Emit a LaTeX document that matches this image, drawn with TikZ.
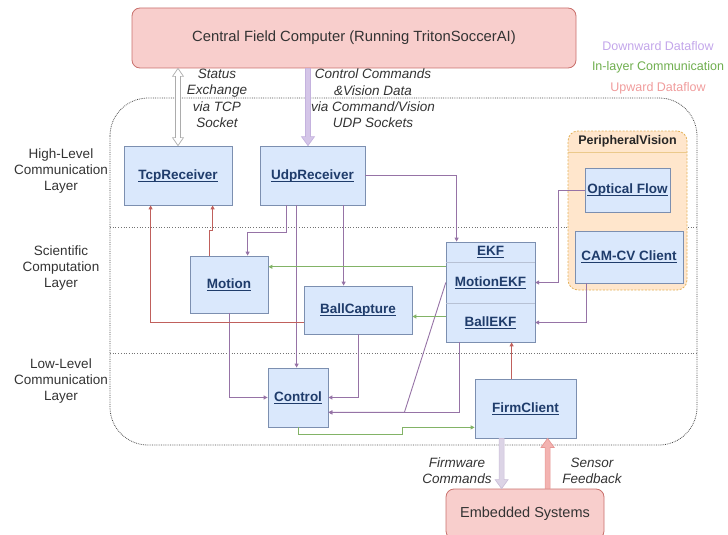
\documentclass[tikz,border=0pt]{standalone}
\usepackage{fontspec}
\setmainfont{Liberation Sans}
\usetikzlibrary{calc,arrows.meta}

\definecolor{boxfill}{HTML}{DAE8FC}
\definecolor{boxline}{HTML}{7C8FB0}
\definecolor{boxtext}{HTML}{1F3C6B}
\definecolor{pinkfill}{HTML}{F8CECC}
\definecolor{pinkline}{HTML}{C9706C}
\definecolor{orfill}{HTML}{FFE6CC}
\definecolor{orline}{HTML}{E3B25A}
\definecolor{downc}{HTML}{9673A6}
\definecolor{greenc}{HTML}{82B366}
\definecolor{upc}{HTML}{C0605C}
\definecolor{legdown}{HTML}{C3A6EA}
\definecolor{leggreen}{HTML}{6FAE4E}
\definecolor{legup}{HTML}{F09C9C}
\definecolor{udpfill}{HTML}{D4C5E8}
\definecolor{udpline}{HTML}{C4B2DE}
\definecolor{fwfill}{HTML}{DCD4E6}
\definecolor{fwline}{HTML}{CBBFD8}
\definecolor{sensfill}{HTML}{F3B3B1}
\definecolor{sensline}{HTML}{E69794}
\definecolor{txt}{HTML}{333333}

% underlined link-style label (rule just under the baseline)
\newcommand{\ulink}[1]{\leavevmode\vtop{\hbox{\raisebox{0pt}[\height][0pt]{#1}}\kern1.6pt\hrule height 0.9pt}}

\tikzset{
  comp/.style={draw=boxline, fill=boxfill, line width=0.8pt, inner sep=0pt,
    font=\bfseries\fontsize{13.5}{16}\selectfont, text=boxtext},
  sect/.style={inner sep=0pt, minimum width=89,
    font=\bfseries\fontsize{13.5}{16}\selectfont, text=boxtext},
  pinkbox/.style={draw=pinkline, fill=pinkfill, line width=0.8pt, rounded corners=8,
    inner sep=0pt, text=txt},
  layerlabel/.style={align=center, text=txt, font=\fontsize{13.5}{16}\selectfont},
  flowlabel/.style={align=center, text=txt, font=\itshape\fontsize{13.5}{16.3}\selectfont},
  legend/.style={font=\fontsize{12.5}{15}\selectfont},
  down/.style={draw=downc, line width=0.9pt, -{Triangle[length=4pt,width=4pt]}},
  inlayer/.style={draw=greenc, line width=0.9pt, -{Triangle[length=4pt,width=4pt]}},
  upflow/.style={draw=upc, line width=0.9pt, -{Triangle[length=4pt,width=4pt]}},
}

\begin{document}
\begin{tikzpicture}[x=1pt, y=-1pt]
\useasboundingbox (0,0) rectangle (728,535);

% robot software boundary and layer separators
\draw[densely dotted, black!70, line width=0.8pt, rounded corners=38] (110,98) rectangle (697,445);
\draw[dotted, black!55, line width=0.7pt] (110,227) -- (697,227);
\draw[dotted, black!55, line width=0.7pt] (110,353) -- (697,353);

% layer names
\node[layerlabel] (lhigh) at (61,171) {High-Level\\Communication\\Layer};
\node[layerlabel] (lsci) at (61,268) {Scientific\\Computation\\Layer};
\node[layerlabel] (llow) at (61,381) {Low-Level\\Communication\\Layer};

% legend
\node[legend, text=legdown] (legd) at (658,46) {Downward Dataflow};
\node[legend, text=leggreen] (legg) at (658,67) {In-layer Communication};
\node[legend, text=legup] (legu) at (658,88) {Upward Dataflow};

% central computer and embedded side
\node[pinkbox, minimum width=444, minimum height=60, font=\fontsize{14.8}{17}\selectfont]
  (cfc) at (354,38) {Central Field Computer (Running TritonSoccerAI)};
\node[pinkbox, minimum width=158, minimum height=50, font=\fontsize{14.5}{17}\selectfont]
  (emb) at (525,514) {Embedded Systems};

% peripheral vision container
\node[draw=orline, fill=orfill, dashed, dash pattern=on 2pt off 1.5pt, line width=0.8pt,
  rounded corners=10, minimum width=119, minimum height=159] (pv) at (627.5,210.5) {};
\node[inner sep=0pt, minimum height=21, font=\bfseries\fontsize{12.5}{15}\selectfont, text=black!85]
  (pvtitle) at (627.5,141.5) {PeripheralVision};
\draw[orline!70, line width=0.6pt] (pv.west |- pvtitle.south) -- (pv.east |- pvtitle.south);

% components
\node[comp, minimum width=108, minimum height=59] (tcp) at (178,175.5) {\ulink{TcpReceiver}};
\node[comp, minimum width=105, minimum height=59] (udp) at (312.5,175.5) {\ulink{UdpReceiver}};
\node[comp, minimum width=78, minimum height=57] (motion) at (229,284.5) {\ulink{Motion}};
\node[comp, minimum width=108, minimum height=48] (ballcap) at (358,310) {\ulink{BallCapture}};
\node[comp, minimum width=85, minimum height=44] (optical) at (627.5,190) {\ulink{Optical Flow}};
\node[comp, minimum width=108, minimum height=52] (camcv) at (629,257) {\ulink{CAM-CV Client}};
\node[comp, minimum width=60, minimum height=59] (control) at (298,397.5) {\ulink{Control}};
\node[comp, minimum width=101, minimum height=59] (firm) at (525.5,408.5) {\ulink{FirmClient}};

% EKF with its two filters
\node[comp, minimum width=89, minimum height=100] (ekf) at (490.5,292) {};
\node[sect, minimum height=20] (ekfhead) at (490.5,252) {\ulink{EKF}};
\node[sect, minimum height=41] (motionekf) at (490.5,282.5) {\ulink{MotionEKF}};
\node[sect, minimum height=39] (ballekf) at (490.5,322.5) {\ulink{BallEKF}};
\draw[boxline!55, line width=0.6pt] (ekf.west |- motionekf.north) -- (ekf.east |- motionekf.north);
\draw[boxline!55, line width=0.6pt] (ekf.west |- ballekf.north) -- (ekf.east |- ballekf.north);

% wide flow arrows
\coordinate (ta) at (cfc.south -| tcp.north);
\coordinate (tb) at (tcp.north);
\filldraw[draw=gray!65, fill=white, line width=0.7pt]
  (ta) -- ++(5.5,8) -- ++(-3,0) -- ($(tb)+(2.5,-8)$) -- ++(3,0) -- (tb)
  -- ++(-5.5,-8) -- ++(3,0) -- ($(ta)+(-2.5,8)$) -- ++(-3,0) -- cycle;

\coordinate (ua) at ($(cfc.south -| udp.north)+(-4.5,0)$);
\coordinate (ub) at ($(udp.north)+(-4.5,0)$);
\filldraw[draw=udpline, fill=udpfill, line width=0.7pt]
  ($(ua)+(-2.5,0)$) -- ($(ua)+(2.5,0)$) -- ($(ub)+(2.5,-9)$) -- ++(4,0) -- (ub)
  -- ++(-6.5,-9) -- ++(4,0) -- cycle;

\coordinate (fa) at ($(firm.south west)+(27,0)$);
\coordinate (fb) at (fa |- emb.north);
\filldraw[draw=fwline, fill=fwfill, line width=0.7pt]
  ($(fa)+(-2.5,0)$) -- ($(fa)+(2.5,0)$) -- ($(fb)+(2.5,-9)$) -- ++(4,0) -- (fb)
  -- ++(-6.5,-9) -- ++(4,0) -- cycle;

\coordinate (sa) at ($(firm.south west)+(73,0)$);
\coordinate (sb) at (sa |- emb.north);
\filldraw[draw=sensline, fill=sensfill, line width=0.7pt]
  ($(sb)+(-2.5,0)$) -- ($(sb)+(2.5,0)$) -- ($(sa)+(2.5,9)$) -- ++(4,0) -- (sa)
  -- ++(-6.5,9) -- ++(4,0) -- cycle;

% flow labels
\node[flowlabel] (lstatus) at (217,98.5) {Status\\Exchange\\via TCP\\Socket};
\node[flowlabel] (lcmd) at (373,98.5) {Control Commands\\\&Vision Data\\via Command/Vision\\UDP Sockets};
\node[flowlabel] (lfw) at (457,471) {Firmware\\Commands};
\node[flowlabel] (lsens) at (592,471) {Sensor\\Feedback};

% downward dataflow
\draw[down] (udp.east) -| ($(ekf.north west)+(11,0)$);
\draw[down] ($(udp.south west)+(27,0)$) -- ++(0,27) -| ($(motion.north west)+(58,0)$);
\coordinate (u3) at ($(udp.south west)+(37,0)$);
\draw[down] (u3) -- (u3 |- control.north);
\coordinate (u4) at ($(udp.south west)+(84,0)$);
\draw[down] (u4) -- (u4 |- ballcap.north);
\draw[down] (motion.south) |- (control.west);
\draw[down] (ballcap.south) |- (control.east);
\coordinate (c2) at ($(control.south east)+(0,-15)$);
\draw[down] ($(ekf.south west)+(14,0)$) |- (c2);
\draw[down] (motionekf.west) -- ($(c2)+(76,0)$) -- (c2);
\draw[down] (optical.west) -- ++(-26,0) |- (motionekf.east);
\draw[down] ($(camcv.south west)+(12,0)$) |- (ballekf.east);

% in-layer communication
\coordinate (g1) at ($(motionekf.north west)+(0,5)$);
\draw[inlayer] (g1) -- (g1 -| motion.east);
\coordinate (g2) at ($(ballekf.west)+(0,-6)$);
\draw[inlayer] (g2) -- (g2 -| ballcap.east);
\coordinate (f1) at ($(firm.south west)+(0,-11)$);
\draw[inlayer] (control.south) -- ++(0,7) -- ++(104,0) -- ++(0,-7) -- (f1);

% upward dataflow
\coordinate (r1) at ($(ballcap.south west)+(0,-12)$);
\draw[upflow] (r1) -| ($(tcp.south west)+(27,0)$);
\draw[upflow] ($(motion.north west)+(20,0)$) -- ++(0,-25) -| ($(tcp.south west)+(89,0)$);
\coordinate (f2) at ($(firm.north west)+(37,0)$);
\draw[upflow] (f2) -- (f2 |- ekf.south);
\end{tikzpicture}
\end{document}
